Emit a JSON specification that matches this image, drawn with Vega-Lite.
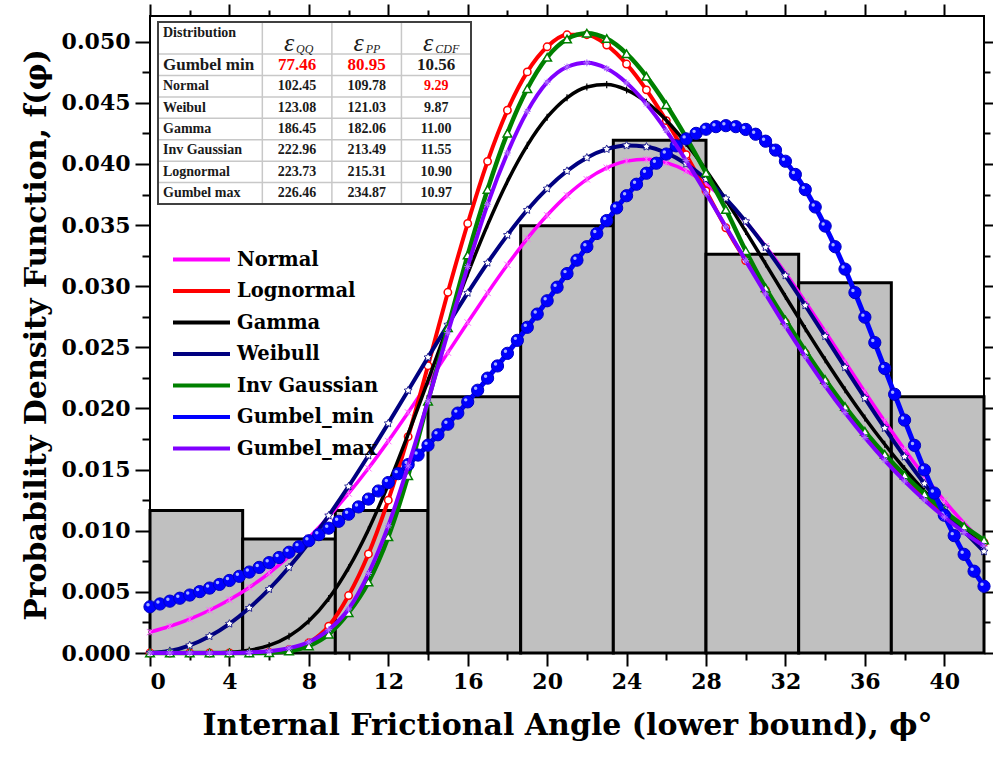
{
"$schema":"https://vega.github.io/schema/vega-lite/v6.json",
"width":834,"height":637,
"autosize":{"type":"none"},
"padding":{"left":150,"top":16,"right":9,"bottom":110},
"background":"white",
"config":{
 "view":{"stroke":"black","strokeWidth":2},
 "axis":{"domain":false,"grid":false,"tickColor":"black","tickWidth":2,"labelFont":"DejaVu Serif","labelFontWeight":"bold","labelFontSize":22,"labelColor":"black","titleFont":"DejaVu Serif","titleFontWeight":"bold","titleFontSize":30,"titleColor":"black"}
},
"datasets":{
 "hist":[{"lo":0,"hi":4.667,"density":0.01165},{"lo":4.667,"hi":9.333,"density":0.00932},{"lo":9.333,"hi":14,"density":0.01165},{"lo":14,"hi":18.667,"density":0.02096},{"lo":18.667,"hi":23.333,"density":0.03494},{"lo":23.333,"hi":28,"density":0.04193},{"lo":28,"hi":32.667,"density":0.03261},{"lo":32.667,"hi":37.333,"density":0.03028},{"lo":37.333,"hi":42,"density":0.02096}],
 "pdf":[
{"x":0,"Normal":0.00171,"Lognormal":0,"Gamma":0,"Weibull":0,"InvGauss":0,"GumbelMax":0},
{"x":1,"Normal":0.00219,"Lognormal":0,"Gamma":0,"Weibull":0.00016,"InvGauss":0,"GumbelMax":0},
{"x":2,"Normal":0.00278,"Lognormal":0,"Gamma":0,"Weibull":0.00062,"InvGauss":0,"GumbelMax":0},
{"x":3,"Normal":0.0035,"Lognormal":0,"Gamma":0.00001,"Weibull":0.00137,"InvGauss":0,"GumbelMax":0},
{"x":4,"Normal":0.00435,"Lognormal":0,"Gamma":0.00006,"Weibull":0.00239,"InvGauss":0,"GumbelMax":0.00001},
{"x":5,"Normal":0.00536,"Lognormal":0.00001,"Gamma":0.00023,"Weibull":0.00368,"InvGauss":0,"GumbelMax":0.00005},
{"x":6,"Normal":0.00654,"Lognormal":0.00005,"Gamma":0.00062,"Weibull":0.00522,"InvGauss":0.00003,"GumbelMax":0.00015},
{"x":7,"Normal":0.0079,"Lognormal":0.00026,"Gamma":0.00137,"Weibull":0.00701,"InvGauss":0.00016,"GumbelMax":0.0004},
{"x":8,"Normal":0.00943,"Lognormal":0.00084,"Gamma":0.00261,"Weibull":0.00902,"InvGauss":0.00058,"GumbelMax":0.0009},
{"x":9,"Normal":0.01115,"Lognormal":0.0022,"Gamma":0.00446,"Weibull":0.01124,"InvGauss":0.00154,"GumbelMax":0.0019},
{"x":10,"Normal":0.01305,"Lognormal":0.0047,"Gamma":0.00696,"Weibull":0.01362,"InvGauss":0.0033,"GumbelMax":0.0036},
{"x":11,"Normal":0.01511,"Lognormal":0.0081,"Gamma":0.01009,"Weibull":0.01615,"InvGauss":0.0058,"GumbelMax":0.0065},
{"x":12,"Normal":0.01733,"Lognormal":0.0125,"Gamma":0.01378,"Weibull":0.01878,"InvGauss":0.0095,"GumbelMax":0.0104},
{"x":13,"Normal":0.01967,"Lognormal":0.0177,"Gamma":0.01791,"Weibull":0.02147,"InvGauss":0.0145,"GumbelMax":0.0153},
{"x":14,"Normal":0.02209,"Lognormal":0.0235,"Gamma":0.02228,"Weibull":0.02418,"InvGauss":0.0206,"GumbelMax":0.0206},
{"x":15,"Normal":0.02457,"Lognormal":0.0295,"Gamma":0.02673,"Weibull":0.02685,"InvGauss":0.0266,"GumbelMax":0.0262},
{"x":16,"Normal":0.02703,"Lognormal":0.03513,"Gamma":0.03103,"Weibull":0.02945,"InvGauss":0.03255,"GumbelMax":0.0316},
{"x":17,"Normal":0.02945,"Lognormal":0.04021,"Gamma":0.03502,"Weibull":0.03191,"InvGauss":0.03791,"GumbelMax":0.0367},
{"x":18,"Normal":0.03175,"Lognormal":0.04439,"Gamma":0.03857,"Weibull":0.03418,"InvGauss":0.04252,"GumbelMax":0.0409},
{"x":19,"Normal":0.03389,"Lognormal":0.04753,"Gamma":0.04152,"Weibull":0.03623,"InvGauss":0.04615,"GumbelMax":0.0443},
{"x":20,"Normal":0.0358,"Lognormal":0.04958,"Gamma":0.04382,"Weibull":0.03798,"InvGauss":0.04872,"GumbelMax":0.04668},
{"x":21,"Normal":0.03743,"Lognormal":0.05056,"Gamma":0.04541,"Weibull":0.03942,"InvGauss":0.05021,"GumbelMax":0.04793},
{"x":22,"Normal":0.03874,"Lognormal":0.05057,"Gamma":0.04629,"Weibull":0.04051,"InvGauss":0.05069,"GumbelMax":0.04827},
{"x":23,"Normal":0.03968,"Lognormal":0.04972,"Gamma":0.04649,"Weibull":0.04121,"InvGauss":0.05025,"GumbelMax":0.0478},
{"x":24,"Normal":0.04023,"Lognormal":0.04817,"Gamma":0.04605,"Weibull":0.04151,"InvGauss":0.04902,"GumbelMax":0.04663},
{"x":25,"Normal":0.04038,"Lognormal":0.04606,"Gamma":0.04505,"Weibull":0.04141,"InvGauss":0.04717,"GumbelMax":0.0449},
{"x":26,"Normal":0.04011,"Lognormal":0.04354,"Gamma":0.04357,"Weibull":0.04091,"InvGauss":0.04484,"GumbelMax":0.04273},
{"x":27,"Normal":0.03944,"Lognormal":0.04075,"Gamma":0.04168,"Weibull":0.04001,"InvGauss":0.04217,"GumbelMax":0.04027},
{"x":28,"Normal":0.03838,"Lognormal":0.0378,"Gamma":0.03949,"Weibull":0.03876,"InvGauss":0.03927,"GumbelMax":0.03761},
{"x":29,"Normal":0.03697,"Lognormal":0.03478,"Gamma":0.03706,"Weibull":0.03717,"InvGauss":0.03627,"GumbelMax":0.03486},
{"x":30,"Normal":0.03525,"Lognormal":0.0321,"Gamma":0.03448,"Weibull":0.0353,"InvGauss":0.0329,"GumbelMax":0.03209},
{"x":31,"Normal":0.03327,"Lognormal":0.02967,"Gamma":0.03183,"Weibull":0.03318,"InvGauss":0.02987,"GumbelMax":0.02937},
{"x":32,"Normal":0.03108,"Lognormal":0.02703,"Gamma":0.02916,"Weibull":0.03087,"InvGauss":0.02723,"GumbelMax":0.02673},
{"x":33,"Normal":0.02873,"Lognormal":0.02453,"Gamma":0.02653,"Weibull":0.02842,"InvGauss":0.02473,"GumbelMax":0.02423},
{"x":34,"Normal":0.0263,"Lognormal":0.02216,"Gamma":0.02398,"Weibull":0.0259,"InvGauss":0.02236,"GumbelMax":0.02186},
{"x":35,"Normal":0.02382,"Lognormal":0.01996,"Gamma":0.02153,"Weibull":0.02336,"InvGauss":0.02016,"GumbelMax":0.01966},
{"x":36,"Normal":0.02136,"Lognormal":0.01793,"Gamma":0.01922,"Weibull":0.02084,"InvGauss":0.01813,"GumbelMax":0.01763},
{"x":37,"Normal":0.01896,"Lognormal":0.01606,"Gamma":0.01707,"Weibull":0.01839,"InvGauss":0.01626,"GumbelMax":0.01576},
{"x":38,"Normal":0.01665,"Lognormal":0.01436,"Gamma":0.01507,"Weibull":0.01605,"InvGauss":0.01456,"GumbelMax":0.01406},
{"x":39,"Normal":0.01448,"Lognormal":0.01281,"Gamma":0.01324,"Weibull":0.01385,"InvGauss":0.01301,"GumbelMax":0.01251},
{"x":40,"Normal":0.01246,"Lognormal":0.01142,"Gamma":0.01158,"Weibull":0.01181,"InvGauss":0.01162,"GumbelMax":0.01112},
{"x":41,"Normal":0.01061,"Lognormal":0.01016,"Gamma":0.01008,"Weibull":0.00996,"InvGauss":0.01036,"GumbelMax":0.00986},
{"x":42,"Normal":0.00895,"Lognormal":0.00904,"Gamma":0.00874,"Weibull":0.0083,"InvGauss":0.00924,"GumbelMax":0.00874}
 ],
 "gmin":[
{"x":0,"y":0.00378},{"x":0.5,"y":0.00401},{"x":1,"y":0.00424},{"x":1.5,"y":0.00448},{"x":2,"y":0.00474},{"x":2.5,"y":0.00502},{"x":3,"y":0.00531},{"x":3.5,"y":0.00561},{"x":4,"y":0.00593},{"x":4.5,"y":0.00627},{"x":5,"y":0.00662},{"x":5.5,"y":0.007},{"x":6,"y":0.00739},{"x":6.5,"y":0.00781},{"x":7,"y":0.00824},{"x":7.5,"y":0.0087},{"x":8,"y":0.00918},{"x":8.5,"y":0.00968},{"x":9,"y":0.01021},{"x":9.5,"y":0.01077},{"x":10,"y":0.01135},{"x":10.5,"y":0.01195},{"x":11,"y":0.01259},{"x":11.5,"y":0.01325},{"x":12,"y":0.01394},{"x":12.5,"y":0.01467},{"x":13,"y":0.01541},{"x":13.5,"y":0.01619},{"x":14,"y":0.017},{"x":14.5,"y":0.01785},{"x":15,"y":0.01871},{"x":15.5,"y":0.01962},{"x":16,"y":0.02054},{"x":16.5,"y":0.02149},{"x":17,"y":0.02248},{"x":17.5,"y":0.02348},{"x":18,"y":0.02451},{"x":18.5,"y":0.02557},{"x":19,"y":0.02664},{"x":19.5,"y":0.02772},{"x":20,"y":0.02881},{"x":20.5,"y":0.02992},{"x":21,"y":0.03103},{"x":21.5,"y":0.03213},{"x":22,"y":0.03323},{"x":22.5,"y":0.03431},{"x":23,"y":0.03537},{"x":23.5,"y":0.0364},{"x":24,"y":0.0374},{"x":24.5,"y":0.03834},{"x":25,"y":0.03924},{"x":25.5,"y":0.04006},{"x":26,"y":0.04081},{"x":26.5,"y":0.04148},{"x":27,"y":0.04205},{"x":27.5,"y":0.0425},{"x":28,"y":0.04284},{"x":28.5,"y":0.04305},{"x":29,"y":0.04313},{"x":29.5,"y":0.04305},{"x":30,"y":0.04282},{"x":30.5,"y":0.04243},{"x":31,"y":0.04186},{"x":31.5,"y":0.04113},{"x":32,"y":0.04022},{"x":32.5,"y":0.03914},{"x":33,"y":0.0379},{"x":33.5,"y":0.03648},{"x":34,"y":0.03492},{"x":34.5,"y":0.03323},{"x":35,"y":0.0314},{"x":35.5,"y":0.02948},{"x":36,"y":0.02747},{"x":36.5,"y":0.02539},{"x":37,"y":0.02327},{"x":37.5,"y":0.02116},{"x":38,"y":0.01905},{"x":38.5,"y":0.01698},{"x":39,"y":0.01498},{"x":39.5,"y":0.01308},{"x":40,"y":0.01127},{"x":40.5,"y":0.0096},{"x":41,"y":0.00807},{"x":41.5,"y":0.00669},{"x":42,"y":0.00546}
 ],
 "table":[
{"Distribution":"Gumbel min","QQ":77.46,"PP":80.95,"CDF":10.56},
{"Distribution":"Normal","QQ":102.45,"PP":109.78,"CDF":9.29},
{"Distribution":"Weibul","QQ":123.08,"PP":121.03,"CDF":9.87},
{"Distribution":"Gamma","QQ":186.45,"PP":182.06,"CDF":11.00},
{"Distribution":"Inv Gaussian","QQ":222.96,"PP":213.49,"CDF":11.55},
{"Distribution":"Lognormal","QQ":223.73,"PP":215.31,"CDF":10.90},
{"Distribution":"Gumbel max","QQ":226.46,"PP":234.87,"CDF":10.97}
 ]
},
"layer":[
{
 "layer":[
  {"data":{"name":"hist"},"mark":{"type":"rect","fill":"#c0c0c0","stroke":"black","strokeWidth":3},
   "encoding":{
    "x":{"field":"lo","type":"quantitative","scale":{"domain":[0,42],"nice":false,"zero":false},"axis":{"orient":"bottom","values":[0,4,8,12,16,20,24,28,32,36,40],"format":"d","tickSize":13,"labelPadding":5,"title":"Internal Frictional Angle (lower bound), ϕ°","titlePadding":18}},
    "x2":{"field":"hi"},
    "y":{"field":"density","type":"quantitative","scale":{"domain":[0,0.0521],"nice":false},"axis":{"orient":"left","values":[0,0.005,0.01,0.015,0.02,0.025,0.03,0.035,0.04,0.045,0.05],"format":".3f","tickSize":15,"labelPadding":5,"title":"Probability Density Function, f(φ)","titlePadding":10}},
    "y2":{"datum":0}}},
  {"data":{"name":"pdf"},"mark":{"type":"line","interpolate":"monotone","strokeWidth":3.5},
   "encoding":{
    "x":{"field":"x","type":"quantitative","axis":{"orient":"top","values":[0,4,8,12,16,20,24,28,32,36,40],"labels":false,"tickSize":12,"title":null}},
    "y":{"field":"Normal","type":"quantitative","axis":{"orient":"right","values":[0,0.005,0.01,0.015,0.02,0.025,0.03,0.035,0.04,0.045,0.05],"labels":false,"tickSize":12,"title":null}},
    "color":{"datum":"Normal","type":"nominal","scale":{"domain":["Normal","Lognormal","Gamma","Weibull","Inv Gaussian","Gumbel_min","Gumbel_max"],"range":["#ff00ff","#ff0000","#000000","#000080","#008000","#0000ff","#8000ff"]},
     "legend":{"orient":"none","legendX":40,"legendY":232,"title":null,"symbolType":"M-3,0H3","symbolSize":361,"symbolStrokeWidth":4,"labelFont":"DejaVu Serif","labelFontWeight":"bold","labelFontSize":19.5,"labelColor":"black","labelOffset":24,"rowPadding":10.5,"padding":0}}}},
  {"data":{"name":"pdf"},"mark":{"type":"point","shape":"M-1,-1L1,1M-1,1L1,-1M0,-1V1","size":40,"filled":false,"stroke":"#ff66ff","strokeWidth":1,"opacity":1},
   "encoding":{
    "x":{"field":"x","type":"quantitative","axis":{"orient":"bottom","values":[2,6,10,14,18,22,26,30,34,38],"labels":false,"tickSize":7,"title":null}},
    "y":{"field":"Normal","type":"quantitative","axis":{"orient":"left","values":[0.0025,0.0075,0.0125,0.0175,0.0225,0.0275,0.0325,0.0375,0.0425,0.0475],"labels":false,"tickSize":8,"title":null}}}},
  {"data":{"name":"pdf"},"mark":{"type":"line","interpolate":"monotone","strokeWidth":4},
   "encoding":{
    "x":{"field":"x","type":"quantitative","axis":{"orient":"top","values":[2,6,10,14,18,22,26,30,34,38],"labels":false,"tickSize":6,"title":null}},
    "y":{"field":"Lognormal","type":"quantitative","axis":{"orient":"right","values":[0.0025,0.0075,0.0125,0.0175,0.0225,0.0275,0.0325,0.0375,0.0425,0.0475],"labels":false,"tickSize":6,"title":null}},
    "color":{"datum":"Lognormal","type":"nominal"}}},
  {"data":{"name":"pdf"},"mark":{"type":"point","shape":"circle","size":55,"filled":true,"fill":"white","stroke":"#ff0000","strokeWidth":1.5,"opacity":1},
   "encoding":{"x":{"field":"x","type":"quantitative","axis":null},"y":{"field":"Lognormal","type":"quantitative","axis":null}}},
  {"data":{"name":"pdf"},"mark":{"type":"line","interpolate":"monotone","strokeWidth":3.5},
   "encoding":{"x":{"field":"x","type":"quantitative","axis":null},"y":{"field":"Gamma","type":"quantitative","axis":null},"color":{"datum":"Gamma","type":"nominal"}}},
  {"data":{"name":"pdf"},"mark":{"type":"point","shape":"M0,-1V1","size":50,"filled":false,"stroke":"#000000","strokeWidth":1.2,"opacity":1},
   "encoding":{"x":{"field":"x","type":"quantitative","axis":null},"y":{"field":"Gamma","type":"quantitative","axis":null}}},
  {"data":{"name":"pdf"},"mark":{"type":"line","interpolate":"monotone","strokeWidth":4},
   "encoding":{"x":{"field":"x","type":"quantitative","axis":null},"y":{"field":"Weibull","type":"quantitative","axis":null},"color":{"datum":"Weibull","type":"nominal"}}},
  {"data":{"name":"pdf"},"mark":{"type":"point","shape":"M0,-1L0.294,-0.405L0.951,-0.309L0.476,0.155L0.588,0.809L0,0.5L-0.588,0.809L-0.476,0.155L-0.951,-0.309L-0.294,-0.405Z","size":70,"filled":true,"fill":"white","stroke":"#000080","strokeWidth":0.8,"opacity":1},
   "encoding":{"x":{"field":"x","type":"quantitative","axis":null},"y":{"field":"Weibull","type":"quantitative","axis":null}}},
  {"data":{"name":"pdf"},"mark":{"type":"line","interpolate":"monotone","strokeWidth":4.5},
   "encoding":{"x":{"field":"x","type":"quantitative","axis":null},"y":{"field":"InvGauss","type":"quantitative","axis":null},"color":{"datum":"Inv Gaussian","type":"nominal"}}},
  {"data":{"name":"pdf"},"mark":{"type":"point","shape":"triangle-up","size":75,"filled":true,"fill":"white","stroke":"#008000","strokeWidth":1.5,"opacity":1},
   "encoding":{"x":{"field":"x","type":"quantitative","axis":null},"y":{"field":"InvGauss","type":"quantitative","axis":null}}},
  {"data":{"name":"gmin"},"mark":{"type":"line","interpolate":"monotone","strokeWidth":5},
   "encoding":{"x":{"field":"x","type":"quantitative","axis":null},"y":{"field":"y","type":"quantitative","axis":null},"color":{"datum":"Gumbel_min","type":"nominal"}}},
  {"data":{"name":"gmin"},"mark":{"type":"point","shape":"circle","size":150,"filled":true,"fill":"#0000ff","stroke":"#0000c0","strokeWidth":1,"opacity":1},
   "encoding":{"x":{"field":"x","type":"quantitative","axis":null},"y":{"field":"y","type":"quantitative","axis":null}}},
  {"data":{"name":"gmin"},"mark":{"type":"point","shape":"circle","size":12,"filled":true,"fill":"#b8c4ff","strokeWidth":0,"opacity":0.9,"xOffset":-2,"yOffset":-2},
   "encoding":{"x":{"field":"x","type":"quantitative","axis":null},"y":{"field":"y","type":"quantitative","axis":null}}},
  {"data":{"name":"pdf"},"mark":{"type":"line","interpolate":"monotone","strokeWidth":4},
   "encoding":{"x":{"field":"x","type":"quantitative","axis":null},"y":{"field":"GumbelMax","type":"quantitative","axis":null},"color":{"datum":"Gumbel_max","type":"nominal"}}},
  {"data":{"name":"pdf"},"mark":{"type":"point","shape":"M-1,0H1M0,-1V1M-0.7,-0.7L0.7,0.7M-0.7,0.7L0.7,-0.7","size":50,"filled":false,"stroke":"#b070ff","strokeWidth":1,"opacity":1},
   "encoding":{"x":{"field":"x","type":"quantitative","axis":null},"y":{"field":"GumbelMax","type":"quantitative","axis":null}}}
 ],
 "resolve":{"axis":{"x":"independent","y":"independent"}}
},
{
 "layer":[
  {"data":{"values":[{"k":"frame"}]},"mark":{"type":"rect","fill":"white","strokeWidth":0},
   "encoding":{
    "x":{"datum":"left","type":"nominal","scale":{"type":"point","domain":["left","n2","n3","c1","QQ","c2","PP","c3","CDF","right"],"range":[8,321],"padding":0},"axis":null},
    "x2":{"datum":"right"},
    "y":{"datum":"top","type":"nominal","scale":{"type":"point","domain":["top","Distribution","ε","s0","Gumbel min","s1","Normal","s2","Weibul","s3","Gamma","s4","Inv Gaussian","s5","Lognormal","s6","Gumbel max","bottom"],"range":[6,188],"padding":0},"axis":null},
    "y2":{"datum":"bottom"}}},
  {"data":{"values":[{"s":"s0"},{"s":"s1"},{"s":"s2"},{"s":"s3"},{"s":"s4"},{"s":"s5"},{"s":"s6"}]},"mark":{"type":"rule","stroke":"#c8c8c8","strokeWidth":1.5},
   "encoding":{"x":{"datum":"left","type":"nominal","axis":null},"x2":{"datum":"right"},"y":{"field":"s","type":"nominal","axis":null}}},
  {"data":{"values":[{"c":"c1"},{"c":"c2"},{"c":"c3"}]},"mark":{"type":"rule","stroke":"#c8c8c8","strokeWidth":1.5},
   "encoding":{"x":{"field":"c","type":"nominal","axis":null},"y":{"datum":"top","type":"nominal","axis":null},"y2":{"datum":"bottom"}}},
  {"data":{"values":[{"k":"frame"}]},"mark":{"type":"rect","fill":null,"fillOpacity":0,"stroke":"#404040","strokeWidth":2},
   "encoding":{"x":{"datum":"left","type":"nominal","axis":null},"x2":{"datum":"right"},"y":{"datum":"top","type":"nominal","axis":null},"y2":{"datum":"bottom"}}},
  {"data":{"values":[{"h":"Distribution"}]},"mark":{"type":"text","align":"left","baseline":"middle","dx":5,"font":"Liberation Serif","fontWeight":"bold","fontSize":14,"color":"#1a1a1a"},
   "encoding":{"x":{"datum":"left","type":"nominal","axis":null},"y":{"datum":"Distribution","type":"nominal","axis":null},"text":{"field":"h"}}},
  {"data":{"values":[{"m":"QQ"},{"m":"PP"},{"m":"CDF"}]},"mark":{"type":"text","text":"ε","align":"center","baseline":"middle","dx":-8,"font":"Liberation Serif","fontStyle":"italic","fontSize":26,"color":"#1a1a1a"},
   "encoding":{"x":{"field":"m","type":"nominal","axis":null},"y":{"datum":"ε","type":"nominal","axis":null}}},
  {"data":{"values":[{"m":"QQ"},{"m":"PP"},{"m":"CDF"}]},"mark":{"type":"text","align":"left","baseline":"middle","dx":-1,"dy":6,"font":"Liberation Serif","fontStyle":"italic","fontSize":12,"color":"#1a1a1a"},
   "encoding":{"x":{"field":"m","type":"nominal","axis":null},"y":{"datum":"ε","type":"nominal","axis":null},"text":{"field":"m"}}},
  {"data":{"name":"table"},"mark":{"type":"text","align":"left","baseline":"middle","dx":5,"font":"Liberation Serif","fontWeight":"bold","color":"#1a1a1a"},
   "encoding":{"x":{"datum":"left","type":"nominal","axis":null},"y":{"field":"Distribution","type":"nominal","axis":null},"text":{"field":"Distribution"},
    "size":{"condition":{"test":"datum.Distribution === 'Gumbel min'","value":17},"value":14}}},
  {"data":{"name":"table"},
   "transform":[{"fold":["QQ","PP","CDF"],"as":["metric","err"]},{"joinaggregate":[{"op":"min","field":"err","as":"best"}],"groupby":["metric"]}],
   "mark":{"type":"text","align":"center","baseline":"middle","font":"Liberation Serif","fontWeight":"bold"},
   "encoding":{"x":{"field":"metric","type":"nominal","axis":null},"y":{"field":"Distribution","type":"nominal","axis":null},
    "text":{"field":"err","type":"quantitative","format":".2f"},
    "color":{"condition":{"test":"datum.err === datum.best","value":"#ff0000"},"value":"#1a1a1a"},
    "size":{"condition":{"test":"datum.Distribution === 'Gumbel min'","value":17},"value":14}}}
 ]
}
],
"resolve":{"scale":{"x":"independent","y":"independent"},"axis":{"x":"independent","y":"independent"}}
}
